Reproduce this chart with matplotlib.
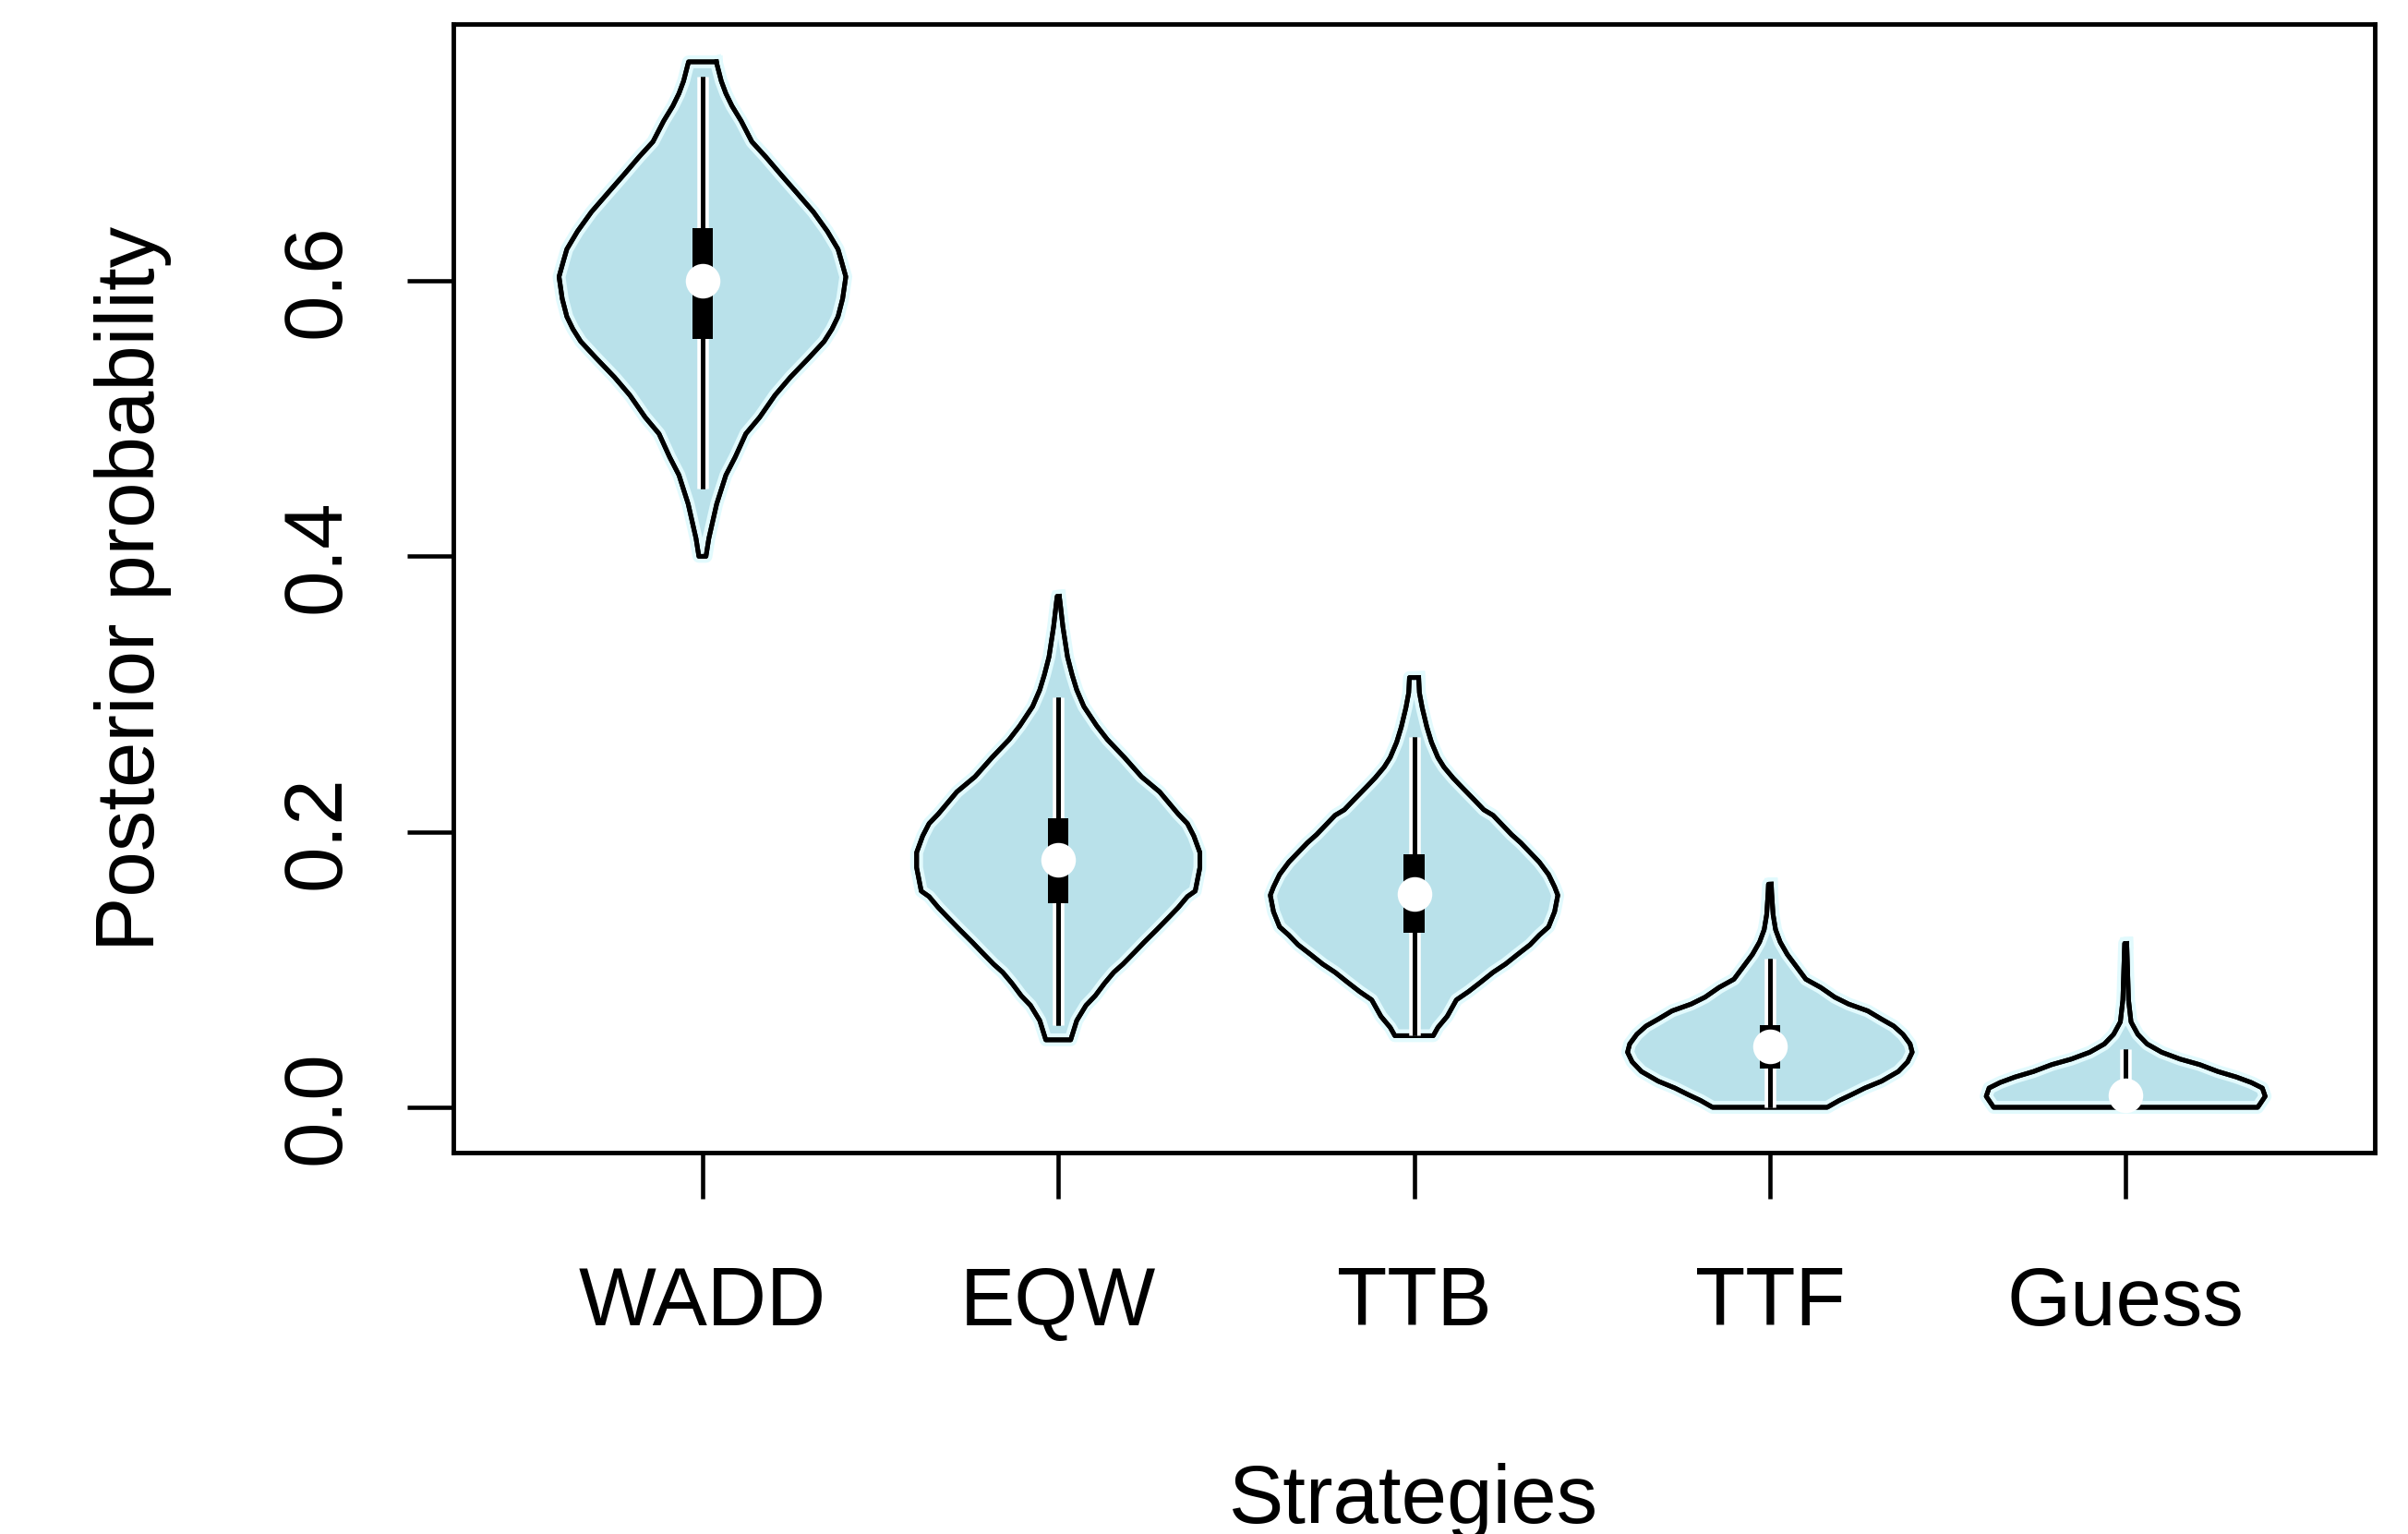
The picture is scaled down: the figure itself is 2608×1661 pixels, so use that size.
import matplotlib
matplotlib.use("Agg")
import matplotlib.pyplot as plt
import matplotlib.patheffects as pe
from matplotlib.patches import Rectangle

plt.rcParams['font.family'] = ['Liberation Sans', 'DejaVu Sans']

# Strategies and posterior summaries
categories = ["WADD", "EQW", "TTB", "TTF", "Guess"]
medians = [0.600, 0.180, 0.155, 0.044, 0.0085]
q1 = [0.558, 0.148, 0.127, 0.028, 0.003]
q3 = [0.638, 0.210, 0.184, 0.060, 0.014]
whisker_lo = [0.449, 0.060, 0.052, 0.000, 0.000]
whisker_hi = [0.748, 0.298, 0.269, 0.108, 0.042]

# Density outlines: posterior value (top to bottom) and half-width
wadd_y = [0.759, 0.745, 0.736, 0.727, 0.716, 0.701, 0.690, 0.677, 0.664, 0.650,
          0.636, 0.623, 0.615, 0.603, 0.587, 0.574, 0.565, 0.556, 0.544, 0.530,
          0.517, 0.501, 0.489, 0.472, 0.459, 0.438, 0.413, 0.400]
wadd_w = [0.039, 0.053, 0.066, 0.083, 0.109, 0.139, 0.178, 0.221, 0.265, 0.312,
          0.351, 0.381, 0.390, 0.403, 0.394, 0.381, 0.364, 0.342, 0.299, 0.247,
          0.204, 0.161, 0.122, 0.092, 0.066, 0.040, 0.018, 0.010]

eqw_y = [0.371, 0.367, 0.349, 0.327, 0.314, 0.303, 0.291, 0.277, 0.267, 0.254,
         0.240, 0.229, 0.221, 0.213, 0.206, 0.197, 0.185, 0.174, 0.157, 0.153,
         0.145, 0.138, 0.129, 0.120, 0.113, 0.104, 0.098, 0.090, 0.081, 0.074,
         0.063, 0.049]
eqw_w = [0.003, 0.005, 0.013, 0.026, 0.039, 0.052, 0.072, 0.108, 0.138, 0.186,
         0.234, 0.285, 0.311, 0.337, 0.363, 0.381, 0.398, 0.398, 0.385, 0.363,
         0.337, 0.311, 0.277, 0.242, 0.216, 0.182, 0.156, 0.130, 0.104, 0.078,
         0.052, 0.035]

ttb_y = [0.312, 0.301, 0.290, 0.276, 0.265, 0.254, 0.247, 0.239, 0.232, 0.223,
         0.216, 0.212, 0.205, 0.198, 0.192, 0.185, 0.178, 0.169, 0.160, 0.154,
         0.142, 0.131, 0.125, 0.118, 0.111, 0.104, 0.098, 0.091, 0.084, 0.078,
         0.066, 0.058, 0.052]
ttb_w = [0.013, 0.015, 0.023, 0.036, 0.049, 0.067, 0.084, 0.110, 0.136, 0.170,
         0.196, 0.222, 0.248, 0.274, 0.300, 0.326, 0.352, 0.378, 0.395, 0.404,
         0.395, 0.378, 0.352, 0.326, 0.291, 0.257, 0.222, 0.188, 0.153, 0.119,
         0.093, 0.067, 0.054]

ttf_y = [0.162, 0.156, 0.140, 0.129, 0.120, 0.111, 0.102, 0.093, 0.087, 0.080,
         0.075, 0.070, 0.064, 0.059, 0.053, 0.046, 0.040, 0.033, 0.026, 0.019,
         0.014, 0.009, 0.005, 0.000]
ttf_w = [0.004, 0.005, 0.009, 0.016, 0.029, 0.049, 0.075, 0.101, 0.143, 0.182,
         0.221, 0.275, 0.314, 0.348, 0.374, 0.394, 0.400, 0.387, 0.361, 0.314,
         0.267, 0.228, 0.195, 0.161]

guess_y = [0.119, 0.078, 0.062, 0.053, 0.046, 0.040, 0.035, 0.031, 0.026, 0.022,
           0.018, 0.014, 0.008, 0.003, 0.000]
guess_w = [0.003, 0.008, 0.015, 0.034, 0.060, 0.101, 0.153, 0.208, 0.259, 0.311,
           0.353, 0.384, 0.392, 0.379, 0.371]

outlines = [(wadd_y, wadd_w), (eqw_y, eqw_w), (ttb_y, ttb_w),
            (ttf_y, ttf_w), (guess_y, guess_w)]

yticks = [0.0, 0.2, 0.4, 0.6]
ytick_labels = ["0.0", "0.2", "0.4", "0.6"]

FILL = "#b9e1ea"
HALO = "#e2fafd"
LW = 3.6
FS = 64

fig = plt.figure(figsize=(26.08, 16.61), dpi=100)
ax = fig.add_axes([0.18827, 0.24865, 0.79793, 0.73570])

for i, (ys, ws) in enumerate(outlines):
    pos = i + 1
    xs = [pos + w for w in ws] + [pos - w for w in reversed(ws)]
    yy = list(ys) + list(reversed(ys))
    xs.append(xs[0])
    yy.append(yy[0])
    ax.fill(xs, yy, facecolor=FILL, edgecolor="none", zorder=2)
    ax.plot(xs, yy, color="black", lw=LW, solid_joinstyle="round", zorder=3,
            path_effects=[pe.withStroke(linewidth=10, foreground=HALO), pe.Normal()])

    # whisker
    ax.plot([pos, pos], [whisker_lo[i], whisker_hi[i]], color="black", lw=LW,
            solid_capstyle="butt", zorder=4,
            path_effects=[pe.withStroke(linewidth=9, foreground="white"), pe.Normal()])
    # interquartile box
    box = Rectangle((pos - 0.029, q1[i]), 0.058, q3[i] - q1[i],
                    facecolor="black", edgecolor="none", zorder=5)
    ax.add_patch(box)
    # median
    ax.plot(pos, medians[i], "o", color="white", ms=27, mec="none", zorder=6)

ax.set_xlim(0.3, 5.7)
ax.set_ylim(-0.03285, 0.78646)

ax.set_xticks(range(1, len(categories) + 1))
ax.set_xticklabels(categories, fontsize=FS)
ax.set_yticks(yticks)
ax.set_yticklabels(ytick_labels, fontsize=FS, rotation=90, va="center")

ax.tick_params(axis="x", direction="out", length=36, width=3.3, pad=52)
ax.tick_params(axis="y", direction="out", length=36, width=3.3, pad=39)

for sp in ax.spines.values():
    sp.set_linewidth(3.5)

ax.set_xlabel("Strategies", fontsize=FS)
ax.set_ylabel("Posterior probability", fontsize=FS)
ax.xaxis.set_label_coords(0.5, -0.275)
ax.yaxis.set_label_coords(-0.1466, 0.5)

fig.savefig("out.png", dpi=100, facecolor="white")
